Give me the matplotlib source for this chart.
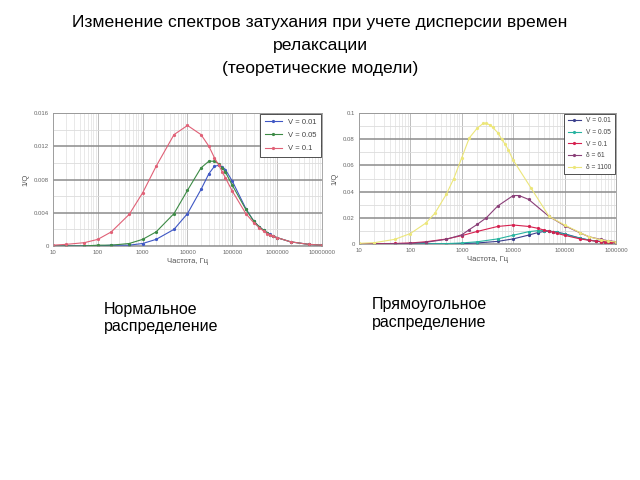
import numpy as np
import matplotlib.pyplot as plt
from matplotlib.ticker import FixedLocator, LogLocator, NullFormatter

plt.rcParams['font.family'] = ['Liberation Sans', 'DejaVu Sans']

# ── Data ───────────────────────────────────────────────────────────────────────
title = "Изменение спектров затухания при учете дисперсии времен\nрелаксации\n(теоретические модели)"

# left chart: normal distribution
f_left = [10, 20, 50, 100, 200, 500, 1000, 2000, 5000, 10000, 20000, 30000, 40000,
          50000, 60000, 70000, 100000, 200000, 300000, 400000, 500000, 600000,
          700000, 800000, 1000000, 2000000, 5000000, 10000000]
v001 = [0, 0, 0, 0, 0.0001, 0.0001, 0.0003, 0.0008, 0.0020, 0.0039, 0.0068, 0.0087,
        0.0096, 0.0097, 0.0095, 0.0092, 0.0078, 0.0045, 0.0030, 0.0023, 0.0019,
        0.0016, 0.0014, 0.0012, 0.0010, 0.0005, 0.0002, 0.0001]
v005 = [0, 0, 0, 0.0001, 0.0001, 0.0003, 0.0008, 0.0017, 0.0039, 0.0067, 0.0094,
        0.0102, 0.0102, 0.0099, 0.0094, 0.0089, 0.0073, 0.0044, 0.0030, 0.0023,
        0.0019, 0.0016, 0.0013, 0.0012, 0.0010, 0.0005, 0.0002, 0.0001]
v01 = [0.0001, 0.0002, 0.0004, 0.0008, 0.0017, 0.0038, 0.0064, 0.0096, 0.0134,
       0.0145, 0.0134, 0.0120, 0.0106, 0.0097, 0.0089, 0.0082, 0.0066, 0.0039,
       0.0028, 0.0022, 0.0018, 0.0015, 0.0013, 0.0012, 0.0010, 0.0005, 0.0002, 0.0001]

# right chart: rectangular distribution (V curves reuse left data up to 1e6)
n_r = 25
f_d61 = [10, 20, 50, 100, 200, 500, 1000, 1400, 2000, 3000, 5000, 10000, 13000,
         20000, 50000, 100000, 200000, 300000, 500000, 700000, 1000000]
d61 = [0, 0.0001, 0.0003, 0.0005, 0.0013, 0.0036, 0.007, 0.011, 0.015, 0.020,
       0.029, 0.037, 0.037, 0.034, 0.021, 0.014, 0.0085, 0.0055, 0.0035, 0.0025, 0.0018]
f_d1100 = [10, 20, 50, 100, 200, 300, 500, 700, 1000, 1400, 2000, 2600, 3000, 3500,
           4000, 5000, 6000, 7000, 8000, 10000, 22000, 50000, 100000, 200000,
           300000, 500000, 700000, 1000000]
d1100 = [0.0005, 0.001, 0.0036, 0.008, 0.016, 0.0235, 0.038, 0.050, 0.066, 0.081,
         0.0885, 0.092, 0.092, 0.091, 0.089, 0.085, 0.080, 0.076, 0.072, 0.064,
         0.043, 0.021, 0.0145, 0.0087, 0.0055, 0.0032, 0.0022, 0.0015]

fig = plt.figure(figsize=(6.4, 4.8), dpi=100)
fig.text(0.5, 1 - 15/480, title, ha='center', va='top', fontsize=12.6, linespacing=1.68)
fig.text(104/640, 1 - 302/480, "Нормальное\nраспределение", ha='left', va='top',
         fontsize=11.5, linespacing=1.15)
fig.text(372/640, 1 - 297/480, "Прямоугольное\nраспределение", ha='left', va='top',
         fontsize=11.5, linespacing=1.25)


def style_axes(ax, xmax, ymax, ystep):
    ax.set_xscale('log')
    ax.set_xlim(10, xmax)
    ax.set_ylim(0, ymax)
    ax.set_yticks(np.arange(0, ymax + ystep / 2, ystep))
    ax.yaxis.set_minor_locator(FixedLocator(np.arange(ystep / 2, ymax, ystep)))
    ax.xaxis.set_major_locator(LogLocator(base=10, numticks=12))
    ax.xaxis.set_minor_locator(LogLocator(base=10, subs=np.arange(2, 10), numticks=12))
    ax.xaxis.set_minor_formatter(NullFormatter())
    ax.xaxis.set_major_formatter(plt.FuncFormatter(lambda v, p: f"{int(round(v))}"))
    ax.grid(True, which='major', axis='y', color='#8c8c8c', lw=1.1)
    ax.grid(True, which='minor', axis='y', color='#dcdcdc', lw=0.6)
    ax.grid(True, which='major', axis='x', color='#bdbdbd', lw=0.7)
    ax.grid(True, which='minor', axis='x', color='#e0e0e0', lw=0.5)
    ax.set_axisbelow(True)
    ax.tick_params(which='both', length=0, labelsize=4.3, colors='#666666', pad=3)
    for s in ax.spines.values():
        s.set_color('#9a9a9a')
        s.set_linewidth(0.6)
    ax.set_xlabel('Частота, Гц', fontsize=5.5, color='#555555', labelpad=2)
    ax.set_ylabel('1/Q', fontsize=5.5, color='#555555', labelpad=3)


kw = dict(lw=0.8, marker='o', ms=1.3)

# ── Left chart ────────────────────────────────────────────────────────────────
ax1 = fig.add_axes([53/640, 1 - 246/480, 269/640, 133/480])
ax1.plot(f_left, v001, color='#3f57c4', label='V = 0.01', **kw)
ax1.plot(f_left, v005, color='#3c8a45', label='V = 0.05', **kw)
ax1.plot(f_left, v01, color='#e06076', label='V = 0.1', **kw)
style_axes(ax1, 1e7, 0.016, 0.004)
ax1.set_yticklabels(['0', '0.004', '0.008', '0.012', '0.016'])
ax1.legend(loc='upper right', fontsize=5.5, frameon=True, fancybox=False,
           edgecolor='#333333', framealpha=1, handlelength=2.2, borderpad=0.6,
           labelspacing=0.75, borderaxespad=0.15,
           labelcolor='#444444').get_frame().set_linewidth(0.6)

# ── Right chart ───────────────────────────────────────────────────────────────
ax2 = fig.add_axes([359/640, 1 - 244/480, 257/640, 131/480])
ax2.plot(f_left[:n_r], v001[:n_r], color='#3b3f8c', label='V = 0.01', **kw)
ax2.plot(f_left[:n_r], v005[:n_r], color='#27b3a0', label='V = 0.05', **kw)
ax2.plot(f_left[:n_r], v01[:n_r], color='#d6204f', label='V = 0.1', **kw)
ax2.plot(f_d61, d61, color='#8a3f78', label='δ = 61', **kw)
ax2.plot(f_d1100, d1100, color='#ece67a', label='δ = 1100', **kw)
style_axes(ax2, 1e6, 0.1, 0.02)
ax2.set_yticklabels(['0', '0.02', '0.04', '0.06', '0.08', '0.1'])
ax2.legend(loc='upper right', fontsize=4.8, frameon=True, fancybox=False,
           edgecolor='#333333', framealpha=1, handlelength=2.0, borderpad=0.5,
           labelspacing=0.7, borderaxespad=0.15,
           labelcolor='#444444').get_frame().set_linewidth(0.6)

plt.savefig('out.png', dpi=100, facecolor='white')
